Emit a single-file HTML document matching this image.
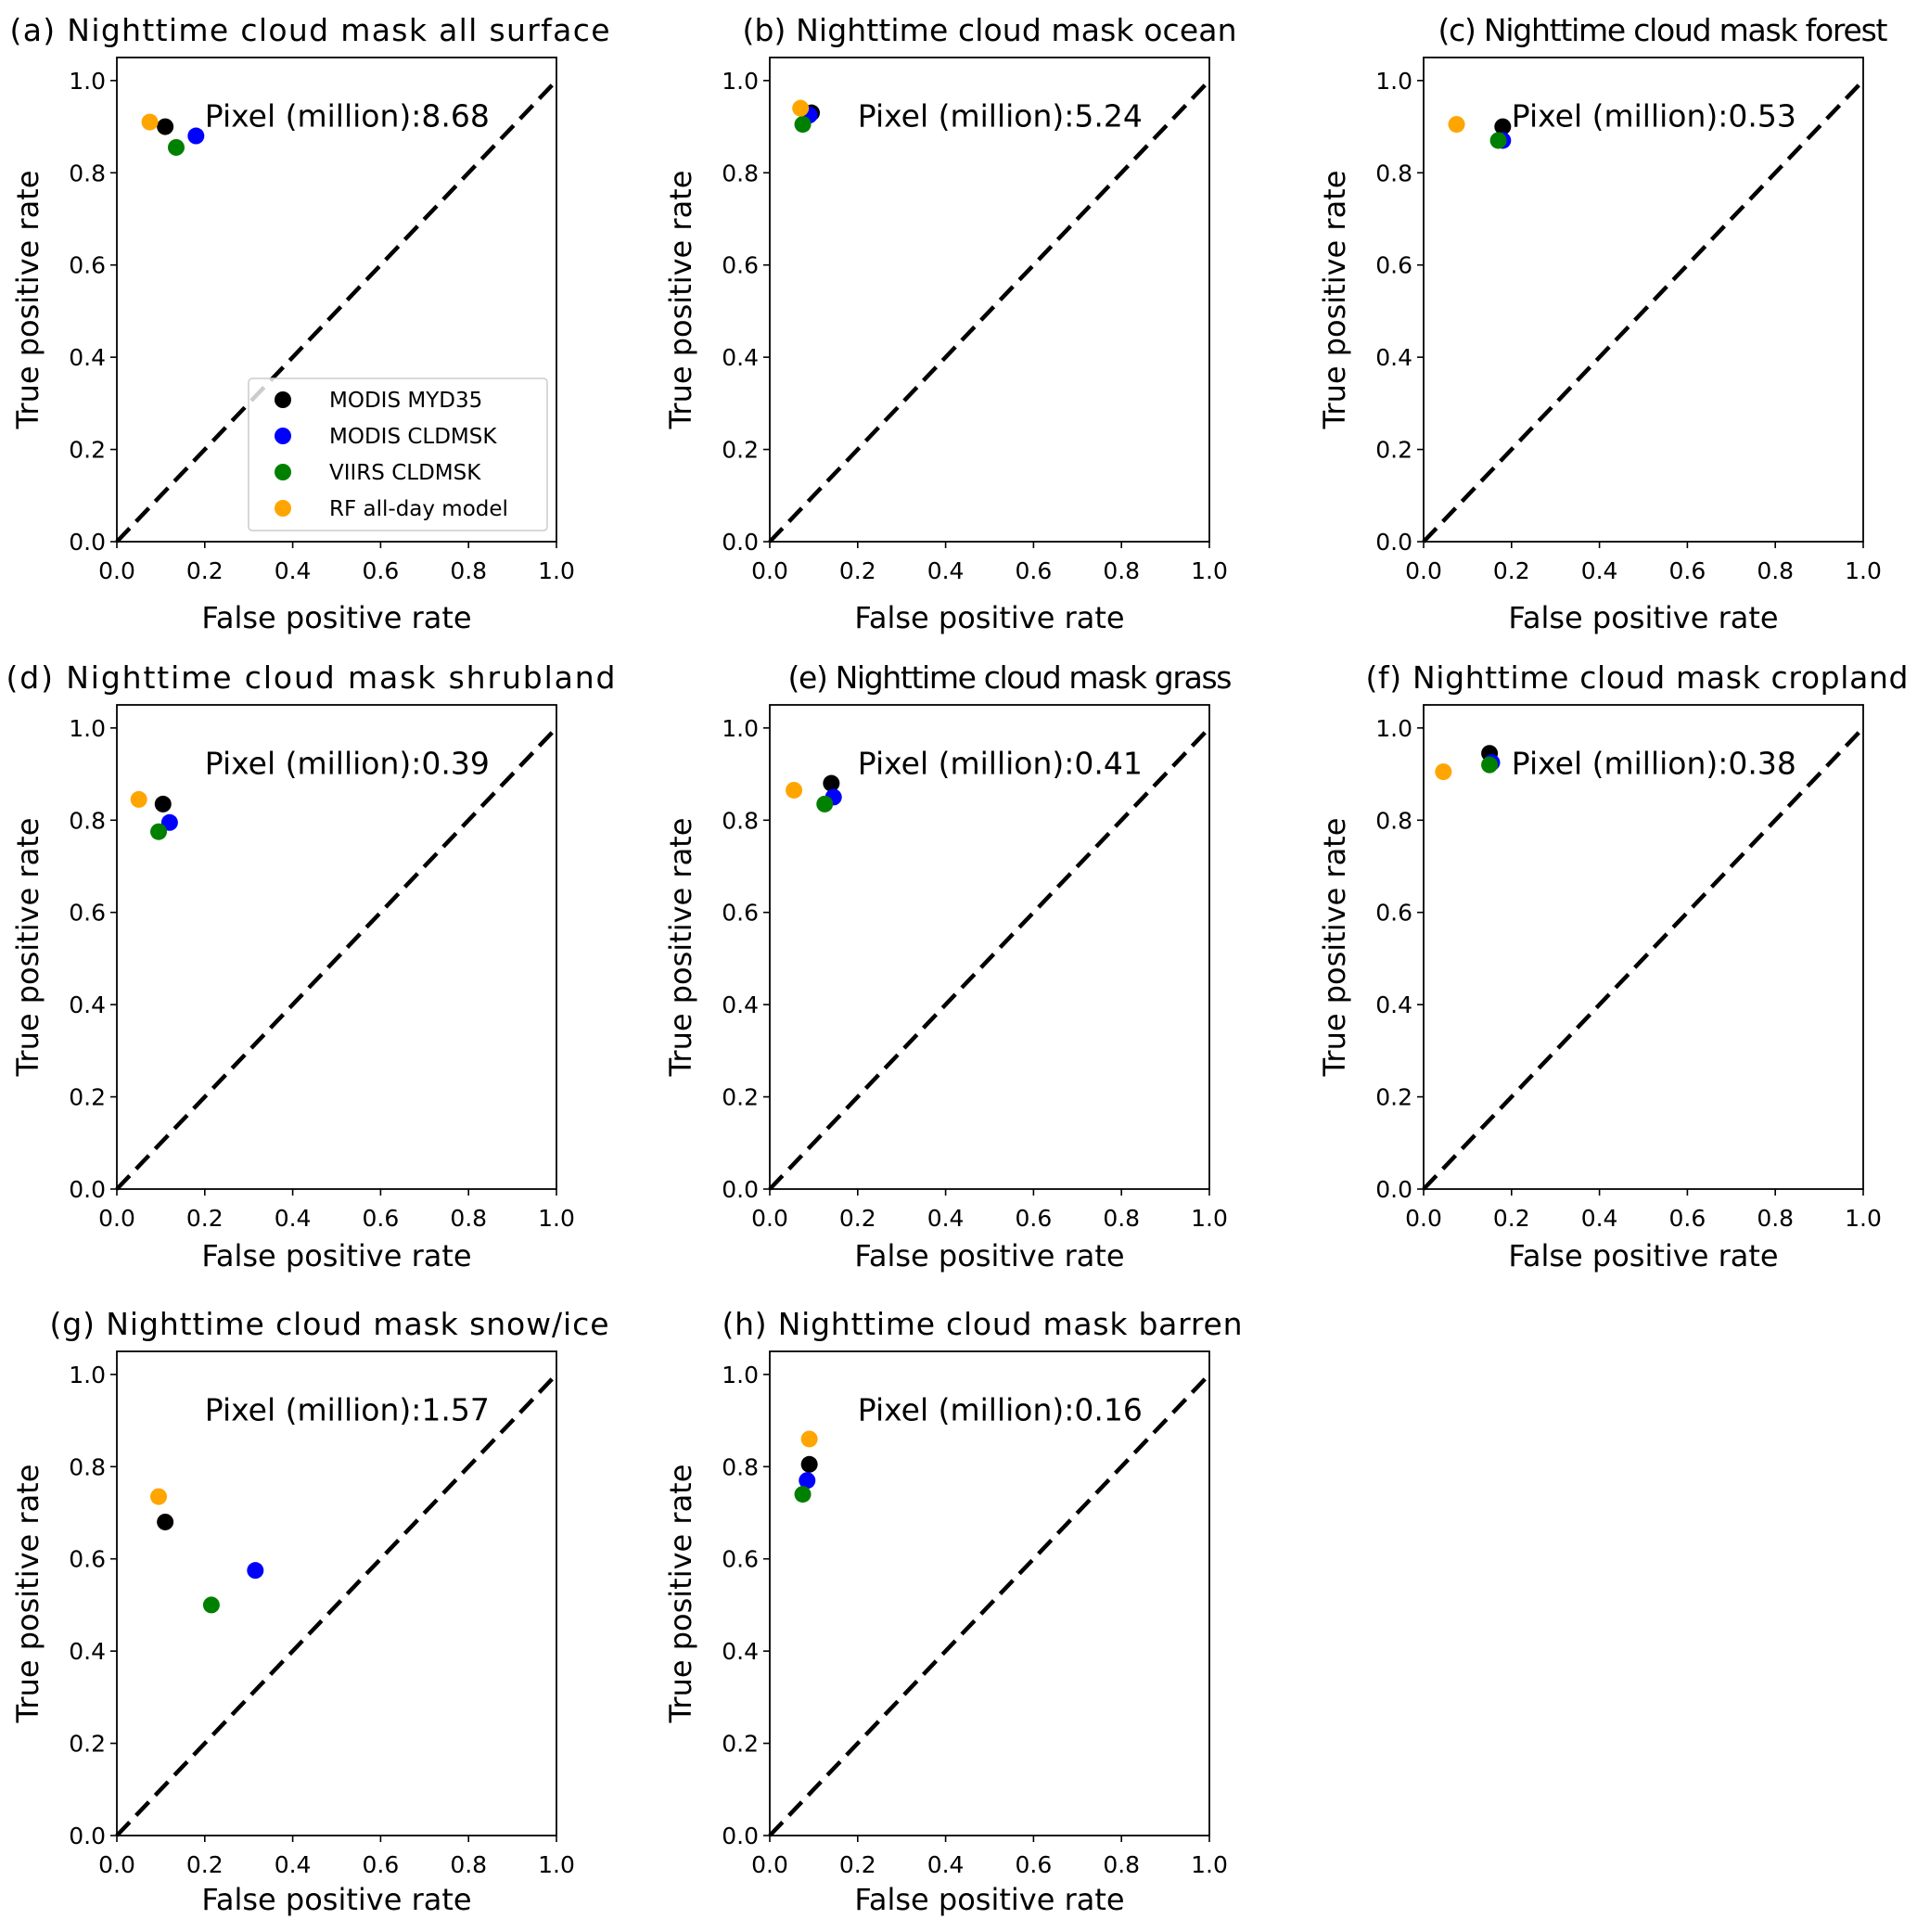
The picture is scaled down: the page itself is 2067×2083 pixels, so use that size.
<!DOCTYPE html>
<html><head><meta charset="utf-8"><style>
html,body{margin:0;padding:0;background:#fff}
svg{display:block;font-family:"DejaVu Sans","Liberation Sans",sans-serif}
</style></head><body>
<svg id="fig" width="2067" height="2083" viewBox="0 0 2067 2083" xmlns="http://www.w3.org/2000/svg"></svg>
<script>
const panelTitles = ["(a) Nighttime cloud mask all surface","(b) Nighttime cloud mask ocean","(c) Nighttime cloud mask forest","(d) Nighttime cloud mask shrubland","(e) Nighttime cloud mask grass","(f) Nighttime cloud mask cropland","(g) Nighttime cloud mask snow/ice","(h) Nighttime cloud mask barren"];
const pixelCounts = ["8.68","5.24","0.53","0.39","0.41","0.38","1.57","0.16"];
const seriesNames = ["MODIS MYD35","MODIS CLDMSK","VIIRS CLDMSK","RF all-day model"];
const seriesColors = ["#000000","#0000ff","#008000","#ffa500"];
const fprMYD35 = [0.11,0.095,0.18,0.105,0.14,0.15,0.11,0.09];
const tprMYD35 = [0.90,0.93,0.90,0.835,0.88,0.945,0.68,0.805];
const fprCLDMSK = [0.18,0.09,0.18,0.12,0.145,0.155,0.315,0.085];
const tprCLDMSK = [0.88,0.925,0.87,0.795,0.85,0.925,0.575,0.77];
const fprVIIRS = [0.135,0.075,0.17,0.095,0.125,0.15,0.215,0.075];
const tprVIIRS = [0.855,0.905,0.87,0.775,0.835,0.92,0.50,0.74];
const fprRF = [0.075,0.07,0.075,0.05,0.055,0.045,0.095,0.09];
const tprRF = [0.91,0.94,0.905,0.845,0.865,0.905,0.735,0.86];
const tickVals = [0,0.2,0.4,0.6,0.8,1.0];
const tickLabels = ["0.0","0.2","0.4","0.6","0.8","1.0"];

const NS="http://www.w3.org/2000/svg";
const svg=document.getElementById('fig');
const colLeft=[126,830,1535], rowBottom=[584,1282,1979], W=474, H=522;
const xlabOff=[81,71,68];
// title layout (center x, width) measured from reference
const titleCx=[334,1067,1793,335,1089,1765,355,1059];
const titleW=[647,533,485,657,479,585,603,561];
function mk(tag,attrs,parent){const e=document.createElementNS(NS,tag);for(const k in attrs)e.setAttribute(k,attrs[k]);(parent||svg).appendChild(e);return e;}
const fprs=[fprMYD35,fprCLDMSK,fprVIIRS,fprRF], tprs=[tprMYD35,tprCLDMSK,tprVIIRS,tprRF];

for(let p=0;p<8;p++){
  const r=Math.floor(p/3), c=p%3;
  const L=colLeft[c], B=rowBottom[r], T=B-H;
  const sx=v=>L+v*W, sy=v=>B-v*(H/1.05);
  const g=mk('g',{});
  
  
  const t=mk('text',{x:titleCx[p]-titleW[p]/2,y:T-18,'font-size':33,textLength:titleW[p],lengthAdjust:'spacing'},g);
   
  t.textContent=panelTitles[p];
  tickVals.forEach((v,i)=>{
    const xt=mk('line',{x1:sx(v),x2:sx(v),y1:B,y2:B+7,stroke:'#000','stroke-width':1.6},g);
     
    const xl=mk('text',{x:sx(v),y:B+40,'text-anchor':'middle','font-size':25},g);
     
    xl.textContent=tickLabels[i];
    const yt=mk('line',{x1:L-7,x2:L,y1:sy(v),y2:sy(v),stroke:'#000','stroke-width':1.6},g);
     
    const yl=mk('text',{x:L-12,y:sy(v)+9,'text-anchor':'end','font-size':25},g);
     
    yl.textContent=tickLabels[i];
  });
  const dl=mk('line',{x1:sx(0),y1:sy(0),x2:sx(1),y2:sy(1),stroke:'#000','stroke-width':4.5,'stroke-dasharray':'20 10'},g);
   
  const pt=mk('text',{x:sx(0.2),y:sy(0.9),'font-size':33},g);
   
  pt.textContent='Pixel (million):'+pixelCounts[p];
  for(let s=0;s<4;s++){
    const m=mk('circle',{cx:sx(fprs[s][p]),cy:sy(tprs[s][p]),r:9,fill:seriesColors[s]},g);
    
    
  }
  const fr=mk('rect',{x:L,y:T,width:W,height:H,fill:'none',stroke:'#000','stroke-width':1.8},g);
   
  const xa=mk('text',{x:L+W/2,y:B+xlabOff[r]+12,'text-anchor':'middle','font-size':32},g);
   
  xa.textContent='False positive rate';
  const ya=mk('text',{x:0,y:0,'text-anchor':'middle','font-size':32,transform:`translate(${L-85},${(T+B)/2}) rotate(-90)`},g);
   
  ya.textContent='True positive rate';
  if(p===0){
    const lg=mk('g',{},g);
     
    const lb=mk('rect',{x:268,y:408,width:322,height:164,rx:4,fill:'#fff','fill-opacity':0.8,stroke:'#ccc','stroke-width':1.5},lg);
     
    const rows=[431,470,509,548];
    for(let s=0;s<4;s++){
      const lm=mk('circle',{cx:305,cy:rows[s],r:9,fill:seriesColors[s]},lg);
       
      const lt=mk('text',{x:355,y:rows[s]+8,'font-size':23},lg);
       
      lt.textContent=seriesNames[s];
    }
  }
}
</script>
</body></html>
